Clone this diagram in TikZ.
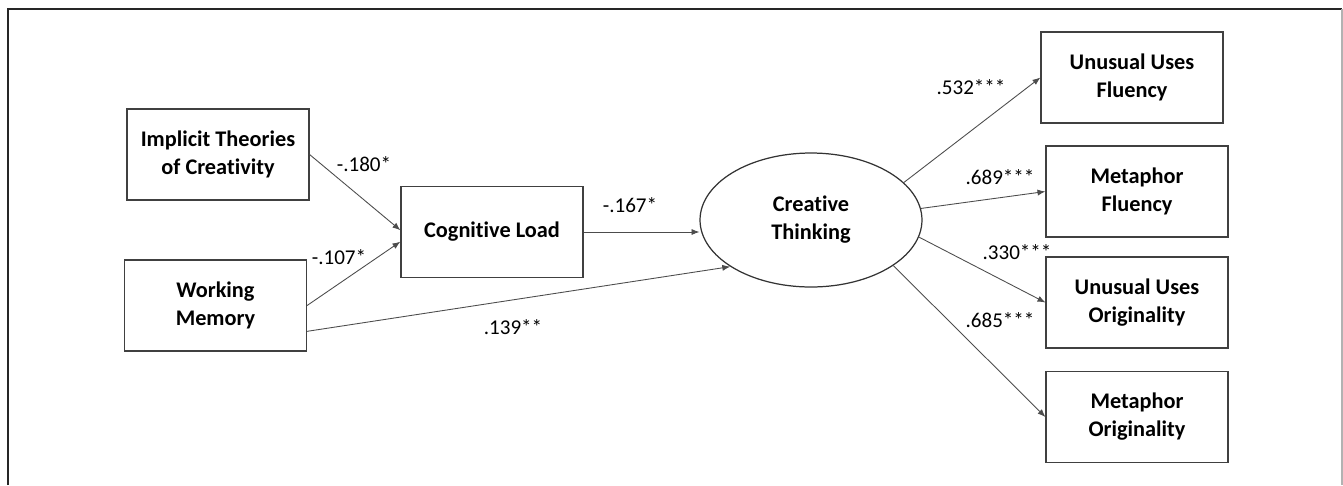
\documentclass[tikz,border=0pt]{standalone}
\usepackage{fontspec}
\setmainfont{Carlito}[Ligatures=NoCommon]
\usetikzlibrary{arrows.meta,shapes.geometric}
\tikzset{
	obsbox/.style={draw=black!75, line width=0.7pt, minimum width=3.64cm, minimum height=1.82cm, inner sep=0pt, align=center, font=\fontsize{12.7pt}{15.9pt}\selectfont\bfseries},
	latbox/.style={draw=black!80, line width=0.7pt, ellipse, minimum width=4.44cm, minimum height=2.68cm, inner sep=0pt, align=center, font=\fontsize{12.7pt}{15.9pt}\selectfont\bfseries},
	path/.style={draw=black!70, line width=0.5pt, -{Latex[length=4.5pt,width=3.5pt]}},
	coef/.style={font=\fontsize{12pt}{14pt}\selectfont, inner sep=0pt}
}

\begin{document}
\begin{tikzpicture}[x=0.02cm, y=-0.02cm]
			%%%%% START %%%%%
			\useasboundingbox (0,0) rectangle (1343,485);
			\draw[line width=1pt, color=black!85] (8,485) -- (8,9) -- (1342,9);
			\draw[line width=0.6pt, color=black!30] (1342,9) -- (1342,485);
			
			% predictors
			\node[obsbox] (impl) at (218,154.5) {Implicit Theories\\of Creativity};
			\node[obsbox] (wm) at (215.5,305.5) {Working\\Memory};
			\node[obsbox] (cog) at (492,232) {Cognitive Load};
			
			% latent factor
			\node[latbox] (ct) at (811,220) {Creative\\Thinking};
			
			% indicators
			\node[obsbox] (uuf) at (1132,77.5) {Unusual Uses\\Fluency};
			\node[obsbox] (mf) at (1137,191.5) {Metaphor\\Fluency};
			\node[obsbox] (uuo) at (1137,302.5) {Unusual Uses\\Originality};
			\node[obsbox] (mo) at (1137,417) {Metaphor\\Originality};
			
			\draw[path] (impl.east) -- ([yshift=1pt]cog.west);
			\draw[path] (wm.east) -- ([yshift=-5.5pt]cog.west);
			\draw[path] ([yshift=-14.7pt]wm.east) -- (ct.210);
			\draw[path] (cog.east) -- (cog.east -| ct.west);
			
			\draw[path] (ct.22) -- (uuf.west);
			\draw[path] (ct.6) -- (mf.west);
			\draw[path] (ct.351) -- (uuo.west);
			\draw[path] (ct.331) -- (mo.west);
			
			\node[coef] (c1) at (364,164) {-.180*};
			\node[coef] (c2) at (339,257) {-.107*};
			\node[coef] (c3) at (630,205) {-.167*};
			\node[coef] (c4) at (513,327) {.139**};
			\node[coef] (c5) at (971,87) {.532***};
			\node[coef] (c6) at (1000,177) {.689***};
			\node[coef] (c7) at (1017,252) {.330***};
			\node[coef] (c8) at (1000,320) {.685***};
			%%%%% END %%%%%
\end{tikzpicture}
\end{document}
